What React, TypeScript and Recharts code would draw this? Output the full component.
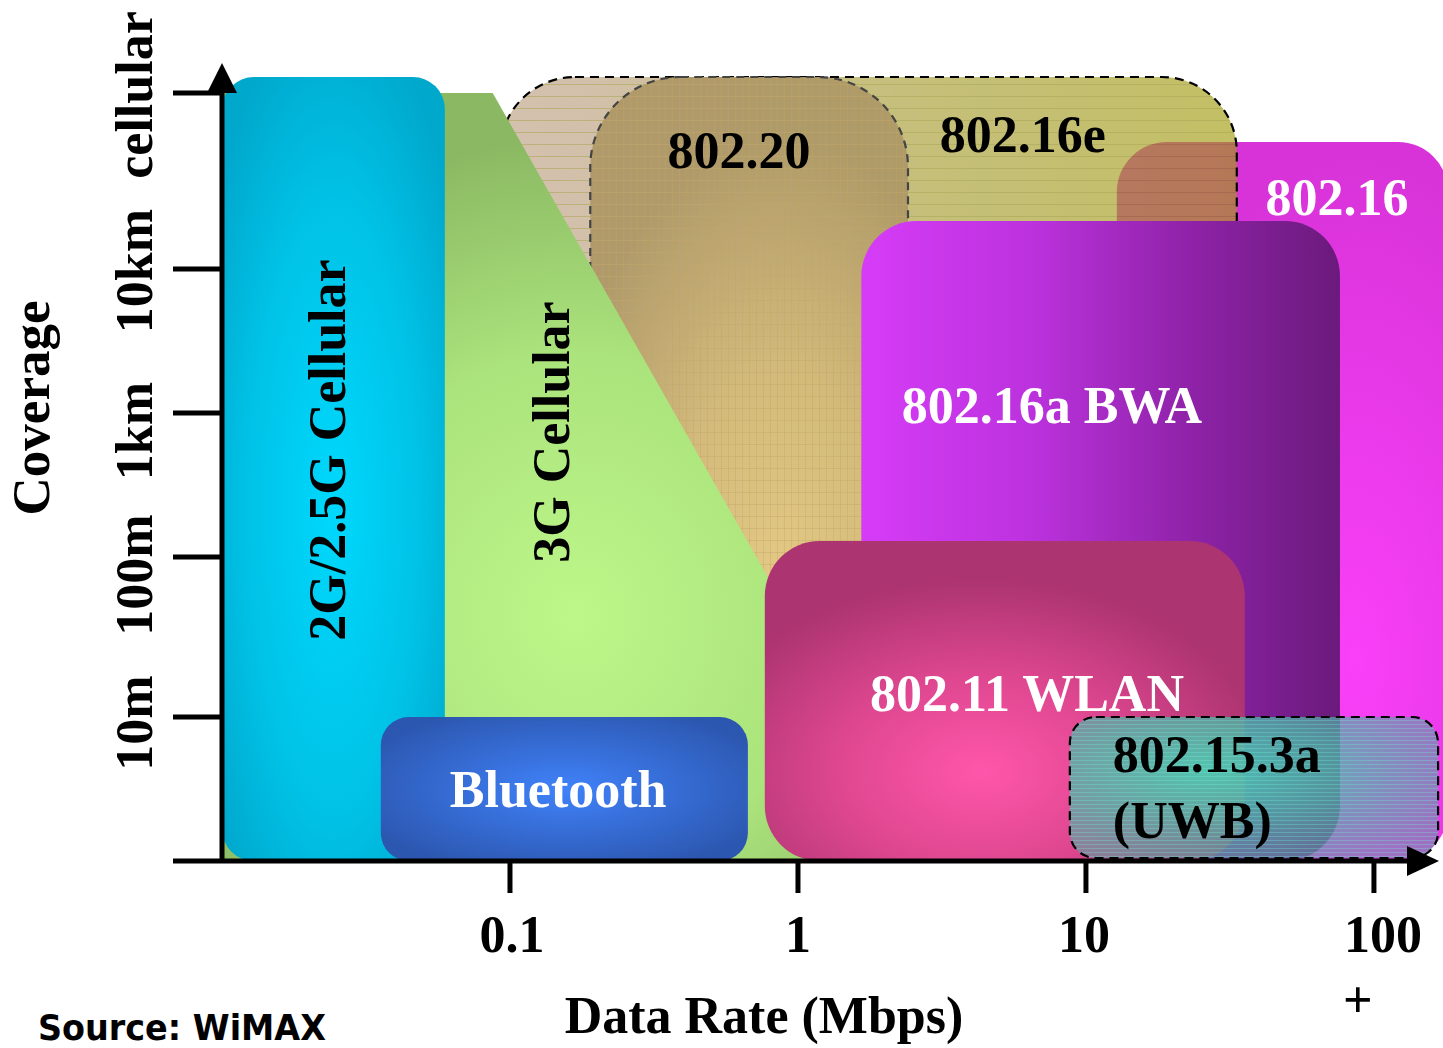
import React from 'react';
import { ComposedChart, XAxis, YAxis, ReferenceArea, ReferenceDot } from 'recharts';

// ---------------- data ----------------
const rateTicks = [0.1, 1, 10, 100];
const rateTickLabels = ['0.1', '1', '10', '100'];
const rateTickSuffix = ['', '', '', '+'];
const coverageTicks = [0, 144, 304, 448, 592, 768];
const coverageTickLabels = ['', '10m', '100m', '1km', '10km', 'cellular'];

const regionNames = ['802.16', '802.16e', '802.20', '3G Cellular', '2G/2.5G Cellular', '802.16a BWA', '802.11 WLAN', 'Bluetooth', '802.15.3a (UWB)'];
const regionRateMin = [12.8, 0.0923, 0.19, 0.01, 0.01, 1.66, 0.767, 0.0356, 8.79];
const regionRateMax = [181, 33.4, 2.41, 2.85, 0.0594, 76.2, 35.6, 0.67, 167];
const regionCoverageMin = [0, 160, 160, 0, 0, 0, 0, 0, 3];
const regionCoverageMax = [719, 784, 784, 768, 784, 640, 320, 144, 144];

// 3G coverage outline (rate, coverage) vertices
const cellular3GRate = [0.01, 0.0871, 2.85, 0.01];
const cellular3GCoverage = [768, 768, 0, 0];

const labelLines = [['802.16'], ['802.16e'], ['802.20'], ['3G Cellular'], ['2G/2.5G Cellular'], ['802.16a BWA'], ['802.11 WLAN'], ['Bluetooth'], ['802.15.3a', '(UWB)']];
const labelRate = [74.5, 6.04, 0.624, 0.16, 0.0267, 7.62, 6.24, 0.147, 12.4];
const labelCoverage = [646, 709, 693, 429, 411, 438, 150, 54, 89];

// ---------------- styles ----------------
const SERIF = '"Liberation Serif", "Times New Roman", serif';
const SANS = '"DejaVu Sans", Verdana, sans-serif';
const coverageLabelShift = [0, 6, 18, 18, 2, 2];
const rateLabelShift = [2, 0, -2, 9];

type Stop = [number, string, number?];
interface RegionStyle {
  kind: 'linear' | 'radial';
  stops: Stop[];
  cx?: number; cy?: number; r?: number;
  radius: number;
  opacity?: number;
  dash?: string; dashColor?: string;
  hLines?: { gap: number; color: string; opacity: number };
  vLines?: { gap: number; color: string; opacity: number };
  polygon?: boolean;
}

const regionStyles: RegionStyle[] = [
  { kind: 'radial', cx: 0.72, cy: 0.72, r: 0.7, stops: [[0, '#FA40F9'], [1, '#D833D9']], radius: 50 },
  { kind: 'linear', stops: [[0, '#BDA083'], [0.12, '#BC9F7E'], [0.5, '#A89E3A'], [1, '#A39E12']], radius: 75, opacity: 0.65, dash: '9 6', dashColor: '#000', hLines: { gap: 12, color: '#7E7A00', opacity: 0.6 } },
  { kind: 'radial', cx: 0.6, cy: 0.85, r: 0.75, stops: [[0, '#E8CC86'], [0.5, '#D4BA7B'], [1, '#AE9868']], radius: 90, opacity: 0.93, dash: '8 6', dashColor: '#444', hLines: { gap: 12, color: '#C8A870', opacity: 0.45 }, vLines: { gap: 7, color: '#C0A448', opacity: 0.35 } },
  { kind: 'radial', cx: 0.5, cy: 0.68, r: 0.62, stops: [[0, '#BDF789'], [0.55, '#ABE37C'], [1, '#8BB963']], radius: 0, polygon: true },
  { kind: 'radial', cx: 0.5, cy: 0.55, r: 0.65, stops: [[0, '#00D8FD'], [0.6, '#00C2E6'], [1, '#00A8CC']], radius: 32 },
  { kind: 'linear', stops: [[0, '#D63CF7'], [0.35, '#BC32DE'], [0.7, '#8D22A6'], [1, '#6B1A7C']], radius: 55 },
  { kind: 'radial', cx: 0.45, cy: 0.72, r: 0.6, stops: [[0, '#FF56AA'], [0.5, '#DE4790'], [1, '#AC3470']], radius: 55 },
  { kind: 'radial', cx: 0.5, cy: 0.5, r: 0.6, stops: [[0, '#4082FA'], [1, '#2C57B0']], radius: 28 },
  { kind: 'radial', cx: 0.37, cy: 0.38, r: 0.75, stops: [[0, '#45D8B8', 0.88], [0.5, '#4CBBA8', 0.75], [1, '#5E9EA2', 0.55]], radius: 26, dash: '9 6', dashColor: '#000', hLines: { gap: 4, color: '#70F0D8', opacity: 0.3 } },
];

const labelStyles = [
  { color: '#fff', anchor: 'middle', rotate: false },
  { color: '#000', anchor: 'middle', rotate: false },
  { color: '#000', anchor: 'middle', rotate: false },
  { color: '#000', anchor: 'middle', rotate: true },
  { color: '#000', anchor: 'middle', rotate: true },
  { color: '#fff', anchor: 'middle', rotate: false },
  { color: '#fff', anchor: 'middle', rotate: false },
  { color: '#fff', anchor: 'middle', rotate: false },
  { color: '#000', anchor: 'start', rotate: false },
];

const LABEL_SIZE = 52;

const makeShape = (i: number) => (p: any) => {
  const { x, y, width, height } = p;
  if (![x, y, width, height].every((v) => Number.isFinite(v))) return null;
  const s = regionStyles[i];
  const id = `region${i}`;
  const stops = s.stops.map(([o, c, a], k) => <stop key={k} offset={o} stopColor={c} stopOpacity={a ?? 1} />);
  const grad =
    s.kind === 'linear' ? (
      <linearGradient id={`${id}g`} x1="0" y1="0" x2="1" y2="0">{stops}</linearGradient>
    ) : (
      <radialGradient id={`${id}g`} cx={s.cx} cy={s.cy} r={s.r}>{stops}</radialGradient>
    );
  const shapeProps: any = {};
  let Tag: any = 'rect';
  if (s.polygon) {
    Tag = 'polygon';
    const l0 = Math.log10(regionRateMin[i]);
    const l1 = Math.log10(regionRateMax[i]);
    const c0 = regionCoverageMin[i];
    const c1 = regionCoverageMax[i];
    shapeProps.points = cellular3GRate
      .map((r, k) => {
        const px = x + ((Math.log10(r) - l0) / (l1 - l0)) * width;
        const py = y + ((c1 - cellular3GCoverage[k]) / (c1 - c0)) * height;
        return `${px},${py}`;
      })
      .join(' ');
  } else {
    Object.assign(shapeProps, { x, y, width, height, rx: s.radius, ry: s.radius });
  }
  return (
    <g>
      <defs>
        {grad}
        {s.hLines && (
          <pattern id={`${id}h`} patternUnits="userSpaceOnUse" width={20} height={s.hLines.gap}>
            <line x1={0} y1={0.5} x2={20} y2={0.5} stroke={s.hLines.color} strokeWidth={1} opacity={s.hLines.opacity} />
          </pattern>
        )}
        {s.vLines && (
          <pattern id={`${id}v`} patternUnits="userSpaceOnUse" width={s.vLines.gap} height={20}>
            <line x1={0.5} y1={0} x2={0.5} y2={20} stroke={s.vLines.color} strokeWidth={1} opacity={s.vLines.opacity} />
          </pattern>
        )}
      </defs>
      <g opacity={s.opacity ?? 1}>
        <Tag {...shapeProps} fill={`url(#${id}g)`} />
        {s.hLines && <Tag {...shapeProps} fill={`url(#${id}h)`} />}
        {s.vLines && <Tag {...shapeProps} fill={`url(#${id}v)`} />}
      </g>
      {s.dash && <Tag {...shapeProps} fill="none" stroke={s.dashColor} strokeWidth={2.2} strokeDasharray={s.dash} />}
    </g>
  );
};

const makeLabel = (i: number) => (p: any) => {
  const { cx, cy } = p;
  if (!Number.isFinite(cx) || !Number.isFinite(cy)) return null;
  const st = labelStyles[i];
  return (
    <text
      x={cx}
      y={cy}
      fill={st.color}
      textAnchor={st.anchor}
      fontFamily={SERIF}
      fontWeight={700}
      fontSize={LABEL_SIZE}
      transform={st.rotate ? `rotate(-90 ${cx} ${cy})` : undefined}
    >
      {labelLines[i].map((t, k) => (
        <tspan key={k} x={cx} dy={k === 0 ? 0 : 66}>{t}</tspan>
      ))}
    </text>
  );
};

const XTick = (p: any) => {
  const { x, y, payload } = p;
  const i = rateTicks.indexOf(payload.value);
  if (i < 0) return null;
  return (
    <g>
      <text x={x + rateLabelShift[i]} y={y + 57} textAnchor="middle" fontFamily={SERIF} fontWeight={700} fontSize={LABEL_SIZE} fill="#000">
        {rateTickLabels[i]}
      </text>
      {rateTickSuffix[i] && (
        <text x={x - 16} y={y + 122} textAnchor="middle" fontFamily={SERIF} fontWeight={700} fontSize={LABEL_SIZE} fill="#000">
          {rateTickSuffix[i]}
        </text>
      )}
    </g>
  );
};

const YTick = (p: any) => {
  const { x, y, payload } = p;
  const i = coverageTicks.indexOf(payload.value);
  if (i < 0 || !coverageTickLabels[i]) return null;
  const bx = x - 19;
  const by = y + coverageLabelShift[i];
  return (
    <text x={bx} y={by} transform={`rotate(-90 ${bx} ${by})`} textAnchor="middle" fontFamily={SERIF} fontWeight={700} fontSize={LABEL_SIZE} fill="#000">
      {coverageTickLabels[i]}
    </text>
  );
};

const UpArrow = (p: any) => {
  const { cx, cy } = p;
  if (!Number.isFinite(cx)) return null;
  return <polygon points={`${cx - 15},${cy + 1} ${cx + 15},${cy + 1} ${cx},${cy - 29}`} fill="#000" />;
};
const RightArrow = (p: any) => {
  const { cx, cy } = p;
  if (!Number.isFinite(cx)) return null;
  return <polygon points={`${cx - 1},${cy - 15} ${cx - 1},${cy + 15} ${cx + 31},${cy}`} fill="#000" />;
};

const RATE_DOMAIN: [number, number] = [0.01, 131.3];
const COVERAGE_DOMAIN: [number, number] = [0, 769];

export default function App() {
  return (
    <div style={{ position: 'absolute', left: 0, top: 0, width: 1443, height: 1048, background: '#fff', overflow: 'hidden' }}>
      <ComposedChart width={1443} height={1048} data={[]} margin={{ top: 92, right: 35, bottom: 0, left: 0 }}>
        <XAxis
          type="number"
          dataKey="rate"
          scale="log"
          domain={RATE_DOMAIN}
          allowDataOverflow
          ticks={rateTicks}
          interval={0}
          height={187}
          tickSize={32}
          axisLine={{ stroke: '#000', strokeWidth: 5 }}
          tickLine={{ stroke: '#000', strokeWidth: 5 }}
          tick={XTick}
        />
        <YAxis
          type="number"
          dataKey="coverage"
          domain={COVERAGE_DOMAIN}
          allowDataOverflow
          ticks={coverageTicks}
          interval={0}
          width={222}
          tickSize={49}
          axisLine={{ stroke: '#000', strokeWidth: 5 }}
          tickLine={{ stroke: '#000', strokeWidth: 5 }}
          tick={YTick}
        />
        {regionNames.map((name, i) => (
          <ReferenceArea
            key={name}
            x1={regionRateMin[i]}
            x2={regionRateMax[i]}
            y1={regionCoverageMin[i]}
            y2={regionCoverageMax[i]}
            ifOverflow="visible"
            shape={makeShape(i)}
          />
        ))}
        {regionNames.map((name, i) => (
          <ReferenceDot key={`l-${name}`} x={labelRate[i]} y={labelCoverage[i]} r={1} ifOverflow="visible" shape={makeLabel(i)} />
        ))}
        <ReferenceDot x={RATE_DOMAIN[0]} y={COVERAGE_DOMAIN[1]} r={1} ifOverflow="visible" shape={UpArrow} />
        <ReferenceDot x={RATE_DOMAIN[1]} y={COVERAGE_DOMAIN[0]} r={1} ifOverflow="visible" shape={RightArrow} />
        <text x={49} y={408} transform="rotate(-90 49 408)" textAnchor="middle" fontFamily={SERIF} fontWeight={700} fontSize={53} fill="#000">
          Coverage
        </text>
        <text x={764} y={1033} textAnchor="middle" fontFamily={SERIF} fontWeight={700} fontSize={LABEL_SIZE} fill="#000">
          Data Rate (Mbps)
        </text>
        <text x={38} y={1040} fontFamily={SANS} fontWeight={700} fontSize={35} textLength={288} lengthAdjust="spacingAndGlyphs" fill="#000">
          Source: WiMAX
        </text>
      </ComposedChart>
    </div>
  );
}
